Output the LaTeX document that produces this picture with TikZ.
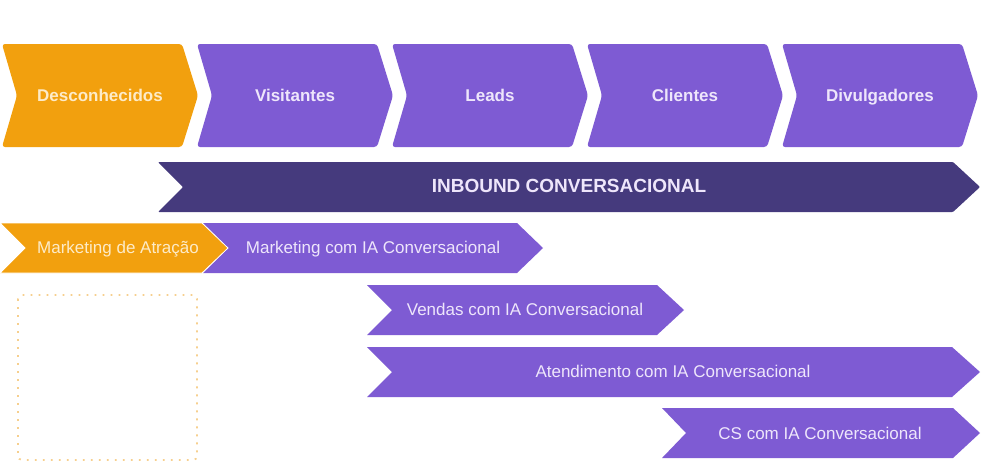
\documentclass[tikz,border=0pt]{standalone}
\usepackage{fontspec}
\setmainfont{Liberation Sans}
\definecolor{cpurple}{HTML}{7E5BD3}
\definecolor{corange}{HTML}{F2A00E}
\definecolor{cdark}{HTML}{453A7D}
\definecolor{ctxtp}{HTML}{EEE6FB}
\definecolor{ctxto}{HTML}{FDEBC8}
\definecolor{cdot}{HTML}{F6CF8E}
\newcommand\mychev[7]{%
  \fill[#7] (#1,#3) -- (#2,#3) -- ({#2+#6},{(#3+#4)/2}) -- (#2,#4) -- (#1,#4) -- ({#1+#5},{(#3+#4)/2}) -- cycle;}
\begin{document}
\begin{tikzpicture}[x=1pt,y=-1pt,
  stagep/.style={fill=cpurple,rounded corners=3pt},
  stageo/.style={fill=corange,rounded corners=3pt},
  banner/.style={fill=cdark,rounded corners=1pt},
  rowp/.style={fill=cpurple},
  rowo/.style={fill=corange,draw=white,line width=0.8pt},
  toplabel/.style={font=\fontsize{17}{19}\selectfont\bfseries,text=ctxtp,inner sep=0pt,anchor=base},
  toplabelo/.style={toplabel,text=ctxto},
  bannerlabel/.style={font=\fontsize{19}{22}\selectfont\bfseries,text=ctxtp,inner sep=0pt,anchor=base},
  rowlabel/.style={font=\fontsize{17}{19}\selectfont,text=ctxtp,inner sep=0pt,anchor=base},
  rowlabelo/.style={rowlabel,text=ctxto}]
\useasboundingbox (0,0) rectangle (981,461);
% top stages
\mychev{2}{182}{44}{147}{15}{16}{stageo}
\mychev{197}{377}{44}{147}{15}{16}{stagep}
\mychev{392}{572}{44}{147}{15}{16}{stagep}
\mychev{587}{767}{44}{147}{15}{16}{stagep}
\mychev{782}{962}{44}{147}{15}{16}{stagep}
\node[toplabelo] (s1) at (100,101) {Desconhecidos};
\node[toplabel] (s2) at (295,101) {Visitantes};
\node[toplabel] (s3) at (490,101) {Leads};
\node[toplabel] (s4) at (685,101) {Clientes};
\node[toplabel] (s5) at (880,101) {Divulgadores};
% banner
\mychev{158}{953}{162}{212}{25}{27}{banner}
\node[bannerlabel] (b) at (569,192) {INBOUND CONVERSACIONAL};
% rows
\mychev{203}{517}{223}{273}{25}{26}{rowp}
\mychev{0}{202}{223}{273}{25}{26}{rowo}
\node[rowlabelo] (r1) at (118,253) {Marketing de Atração};
\node[rowlabel] (r2) at (373,253) {Marketing com IA Conversacional};
\mychev{367}{657}{285}{335}{25}{27}{rowp}
\node[rowlabel] (r3) at (525,315) {Vendas com IA Conversacional};
\mychev{367}{952}{347}{397}{25}{28}{rowp}
\node[rowlabel] (r4) at (673,377) {Atendimento com IA Conversacional};
\mychev{662}{953}{408}{458}{24}{27}{rowp}
\node[rowlabel] (r5) at (820,439) {CS com IA Conversacional};
% dotted box
\draw[cdot,line width=1.8pt,dash pattern=on 1.8pt off 6.2pt,rounded corners=4pt] (18,295) rectangle (197,460);
\end{tikzpicture}
\end{document}
